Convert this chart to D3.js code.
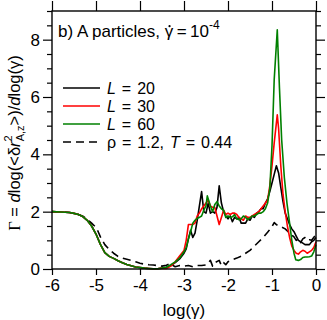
<!DOCTYPE html>
<html>
<head>
<meta charset="utf-8">
<title>Gamma vs log(gamma)</title>
<script src="https://d3js.org/d3.v7.min.js"></script>
<style>
  body { margin: 0; background: #fff; }
  svg { font-family: "Liberation Sans", Arial, sans-serif; }
</style>
</head>
<body>
<div id="chart"></div>
<script>
// data: [log(gamma), Gamma]
// the three solid curves share the same smooth low-strain part
var smoothPart = [[-6,2.0],[-5.8,1.99],[-5.6,1.97],[-5.5,1.94],[-5.4,1.9],[-5.3,1.83],[-5.2,1.7],
  [-5.1,1.5],[-5.0,1.22],[-4.9,0.86],[-4.8,0.57],[-4.7,0.44],[-4.6,0.37],[-4.5,0.29],[-4.4,0.22],
  [-4.3,0.16],[-4.2,0.11],[-4.1,0.07],[-4.0,0.05],[-3.9,0.03],[-3.8,0.02],[-3.7,0.01],[-3.6,0.01],[-3.5,0.03]];

var L20 = [[-3.4,0.06],[-3.3,0.12],[-3.2,0.22],[-3.1,0.35],[-3.0,0.55],[-2.95,0.7],[-2.9,1.05],[-2.85,1.35],
  [-2.8,1.1],[-2.75,1.25],[-2.7,1.7],[-2.65,2.2],[-2.6,2.7],[-2.55,2.0],[-2.5,1.95],[-2.45,2.3],[-2.4,1.95],
  [-2.35,2.0],[-2.3,1.95],[-2.25,2.15],[-2.2,2.9],[-2.15,2.3],[-2.1,2.0],[-2.05,1.85],[-2.0,1.75],[-1.95,1.85],
  [-1.9,1.65],[-1.85,1.8],[-1.8,1.75],[-1.75,1.8],[-1.7,1.6],[-1.65,1.6],[-1.6,1.6],[-1.55,1.75],[-1.5,1.7],
  [-1.45,1.85],[-1.4,1.8],[-1.35,1.95],[-1.3,2.0],[-1.25,2.1],[-1.2,2.1],[-1.15,2.3],[-1.1,2.45],[-1.05,2.7],
  [-1.0,3.0],[-0.95,3.3],[-0.9,3.6],[-0.85,3.35],[-0.8,2.85],[-0.75,2.35],[-0.7,1.95],[-0.65,1.75],[-0.6,1.55],
  [-0.55,1.4],[-0.5,1.3],[-0.45,1.15],[-0.4,1.0],[-0.35,0.95],[-0.3,0.9],[-0.25,0.85],[-0.2,0.85],[-0.15,0.85],
  [-0.1,0.95],[-0.05,1.0],[0,1.1]];

var L30 = [[-3.4,0.02],[-3.3,0.1],[-3.2,0.25],[-3.1,0.45],[-3.0,0.65],[-2.95,1.0],[-2.9,1.55],[-2.85,1.55],
  [-2.8,1.55],[-2.75,1.6],[-2.7,1.85],[-2.65,1.95],[-2.6,2.1],[-2.55,2.2],[-2.5,2.3],[-2.45,2.4],[-2.4,2.2],
  [-2.35,2.15],[-2.3,2.15],[-2.25,1.85],[-2.2,1.55],[-2.15,1.8],[-2.1,2.05],[-2.05,1.9],[-2.0,1.95],[-1.95,1.9],
  [-1.9,1.95],[-1.85,1.95],[-1.8,1.9],[-1.75,1.8],[-1.7,1.75],[-1.65,1.7],[-1.6,1.85],[-1.55,1.8],[-1.5,1.8],
  [-1.45,1.85],[-1.4,1.9],[-1.35,1.95],[-1.3,2.0],[-1.25,2.1],[-1.2,2.2],[-1.15,2.3],[-1.1,2.4],[-1.05,2.9],
  [-1.0,3.6],[-0.95,4.4],[-0.9,5.1],[-0.88,5.38],[-0.85,4.9],[-0.8,3.6],[-0.75,2.6],[-0.7,2.0],[-0.65,1.5],
  [-0.6,1.1],[-0.55,0.8],[-0.5,0.65],[-0.45,0.55],[-0.4,0.52],[-0.35,0.6],[-0.3,0.65],[-0.25,0.62],[-0.2,0.55],
  [-0.15,0.6],[-0.1,0.65],[-0.05,0.75],[0,0.95]];

var L60 = [[-3.4,0.06],[-3.3,0.15],[-3.2,0.25],[-3.1,0.38],[-3.0,0.6],[-2.95,0.75],[-2.9,1.05],[-2.85,1.3],
  [-2.8,1.6],[-2.75,1.7],[-2.7,1.77],[-2.65,1.8],[-2.6,1.85],[-2.55,2.05],[-2.5,2.2],[-2.47,2.55],[-2.4,2.2],
  [-2.35,2.0],[-2.3,2.25],[-2.25,2.35],[-2.2,2.2],[-2.15,2.1],[-2.1,2.05],[-2.05,1.8],[-2.0,1.85],[-1.95,1.8],
  [-1.9,1.82],[-1.85,1.9],[-1.8,1.75],[-1.75,1.72],[-1.7,1.75],[-1.65,1.85],[-1.6,1.8],[-1.55,1.72],[-1.5,1.78],
  [-1.45,1.85],[-1.4,1.85],[-1.35,1.9],[-1.3,1.95],[-1.25,1.95],[-1.2,2.0],[-1.15,2.1],[-1.1,2.3],[-1.05,2.8],
  [-1.0,4.3],[-0.95,6.6],[-0.88,8.34],[-0.83,6.3],[-0.78,4.5],[-0.72,3.2],[-0.66,2.3],[-0.6,1.6],[-0.55,1.0],
  [-0.5,0.55],[-0.46,0.32],[-0.4,0.3],[-0.35,0.33],[-0.3,0.4],[-0.25,0.42],[-0.2,0.42],[-0.15,0.43],[-0.1,0.45],
  [-0.05,0.6],[0,0.85]];

var bulk = [[-6,2.0],[-5.8,1.99],[-5.6,1.97],[-5.4,1.9],[-5.3,1.84],[-5.2,1.74],[-5.1,1.6],[-5.0,1.45],
  [-4.95,1.3],[-4.9,1.12],[-4.8,0.85],[-4.7,0.68],[-4.6,0.55],[-4.5,0.44],[-4.4,0.38],[-4.3,0.34],[-4.2,0.3],
  [-4.1,0.25],[-4.0,0.2],[-3.9,0.17],[-3.8,0.15],[-3.7,0.14],[-3.6,0.12],[-3.5,0.1],[-3.4,0.13],[-3.3,0.2],
  [-3.25,0.12],[-3.2,0.08],[-3.1,0.12],[-3.0,0.1],[-2.9,0.12],[-2.8,0.08],[-2.7,0.12],[-2.6,0.12],[-2.5,0.14],
  [-2.4,0.3],[-2.35,0.1],[-2.3,0.22],[-2.2,0.3],[-2.15,0.12],[-2.1,0.22],[-2.05,0.15],[-2.0,0.25],[-1.9,0.32],
  [-1.8,0.38],[-1.7,0.45],[-1.6,0.55],[-1.5,0.65],[-1.4,0.8],[-1.3,0.95],[-1.2,1.1],[-1.1,1.28],[-1.0,1.48],
  [-0.95,1.62],[-0.9,1.55],[-0.85,1.5],[-0.8,1.48],[-0.7,1.4],[-0.6,1.25],[-0.5,1.12],[-0.45,1.0],[-0.4,1.05],
  [-0.35,0.92],[-0.3,1.05],[-0.25,1.1],[-0.2,1.0],[-0.15,1.02],[-0.1,1.0],[0,1.2]];

var xTicks = [-6, -5, -4, -3, -2, -1, 0];
var yLabelTicks = [0, 2, 4, 6, 8];

// series list for drawing (order = legend order)
var series = [
  { name: "20", pts: smoothPart.concat(L20), color: "#000000", dash: null },
  { name: "30", pts: smoothPart.concat(L30), color: "#ff0000", dash: null },
  { name: "60", pts: smoothPart.concat(L60), color: "#008000", dash: null },
  { name: "bulk", pts: bulk, color: "#000000", dash: "8,5" }
];

var W = 327, H = 320;
var margin = { top: 11, right: 11, bottom: 51, left: 52 };
var width = W - margin.left - margin.right,
    height = H - margin.top - margin.bottom;

var svg = d3.select("#chart").append("svg")
  .attr("width", W).attr("height", H);
var g = svg.append("g")
  .attr("transform", "translate(" + margin.left + "," + margin.top + ")");

var x = d3.scaleLinear().domain([-6, 0]).range([0, width]);
var y = d3.scaleLinear().domain([0, 9]).range([height, 0]);

// ticks: all outward, y every 0.5 with labels every 2
var yMinor = d3.range(0, 9.01, 0.5).filter(function(v) { return v % 2 !== 0; });

function styleAxis(sel) {
  sel.select(".domain").remove();
  sel.selectAll("line").attr("stroke", "#000").attr("stroke-width", 1.2);
  sel.selectAll("text").attr("font-size", 17).attr("fill", "#000");
}

g.append("g").attr("transform", "translate(0," + height + ")")
  .call(d3.axisBottom(x).tickValues(xTicks).tickSize(6).tickPadding(4)
    .tickFormat(function(d) { return d === 0 ? "0" : "-" + Math.abs(d); }))
  .call(styleAxis);
g.append("g")
  .call(d3.axisTop(x).tickValues(xTicks).tickSize(10).tickFormat(""))
  .call(styleAxis);
g.append("g")
  .call(d3.axisLeft(y).tickValues(yLabelTicks).tickSize(9).tickPadding(3))
  .call(styleAxis);
g.append("g")
  .call(d3.axisLeft(y).tickValues(yMinor).tickSize(5).tickFormat(""))
  .call(styleAxis);
g.append("g").attr("transform", "translate(" + width + ",0)")
  .call(d3.axisRight(y).tickValues(yLabelTicks).tickSize(9).tickFormat(""))
  .call(styleAxis);
g.append("g").attr("transform", "translate(" + width + ",0)")
  .call(d3.axisRight(y).tickValues(yMinor).tickSize(5).tickFormat(""))
  .call(styleAxis);

// curves
var line = d3.line()
  .x(function(d) { return x(d[0]); })
  .y(function(d) { return y(d[1]); });

// draw dashed first, then black, red, green on top
[series[3], series[0], series[1], series[2]].forEach(function(s) {
  g.append("path")
    .datum(s.pts)
    .attr("d", line)
    .attr("fill", "none")
    .attr("stroke", s.color)
    .attr("stroke-width", 1.6)
    .attr("stroke-linejoin", "round")
    .attr("stroke-dasharray", s.dash);
});

// frame
g.append("rect")
  .attr("width", width).attr("height", height)
  .attr("fill", "none").attr("stroke", "#000").attr("stroke-width", 1.4);

// title
var title = g.append("text")
  .attr("x", 6).attr("y", 26)
  .attr("font-size", 17);
title.append("tspan").text("b) A particles, ");
title.append("tspan").text("\u03b3");
title.append("tspan").text("\u2009=\u200910");
title.append("tspan").attr("font-size", 12).attr("dy", -8).text("-4");
// dot over gamma
var gi = "b) A particles, ".length;
var ext = title.node().getExtentOfChar(gi);
g.append("circle")
  .attr("cx", ext.x + ext.width / 2 + 0.5)
  .attr("cy", ext.y + ext.height * 0.22)
  .attr("r", 1.1).attr("fill", "#000");

// legend
var legend = g.append("g").attr("transform", "translate(11,77)");
series.forEach(function(s, i) {
  var row = legend.append("g").attr("transform", "translate(0," + (i * 18) + ")");
  row.append("line")
    .attr("x1", 0).attr("x2", 37).attr("y1", 0).attr("y2", 0)
    .attr("stroke", s.color).attr("stroke-width", 1.6)
    .attr("stroke-dasharray", s.dash);
  var t = row.append("text").attr("x", 44).attr("y", 6)
    .attr("font-size", 16).attr("word-spacing", 1.5);
  if (s.name === "bulk") {
    t.append("tspan").text("\u03c1 = 1.2, ");
    t.append("tspan").attr("font-style", "italic").text("T");
    t.append("tspan").text(" = 0.44");
  } else {
    t.append("tspan").attr("font-style", "italic").text("L");
    t.append("tspan").text(" = " + s.name);
  }
});

// axis titles
svg.append("text")
  .attr("x", margin.left + width / 2).attr("y", 316)
  .attr("text-anchor", "middle").attr("font-size", 17)
  .text("log(\u03b3)");

var yl = svg.append("text")
  .attr("transform", "translate(20,143) rotate(-90)")
  .attr("text-anchor", "middle").attr("font-size", 16.5);
yl.append("tspan").attr("font-family", "Liberation Serif").text("\u0393");
yl.append("tspan").text(" = ");
yl.append("tspan").attr("font-style", "italic").text("d");
yl.append("tspan").text("log(<\u03b4");
yl.append("tspan").attr("font-style", "italic").text("r");
yl.append("tspan").attr("font-size", 11).attr("dy", -8).text("2");
yl.append("tspan").attr("font-size", 11).attr("dx", -6).attr("dy", 12).text("A,z");
yl.append("tspan").attr("dy", -4).text(">)/");
yl.append("tspan").attr("font-style", "italic").text("d");
yl.append("tspan").text("log(\u03b3)");
</script>
</body>
</html>
